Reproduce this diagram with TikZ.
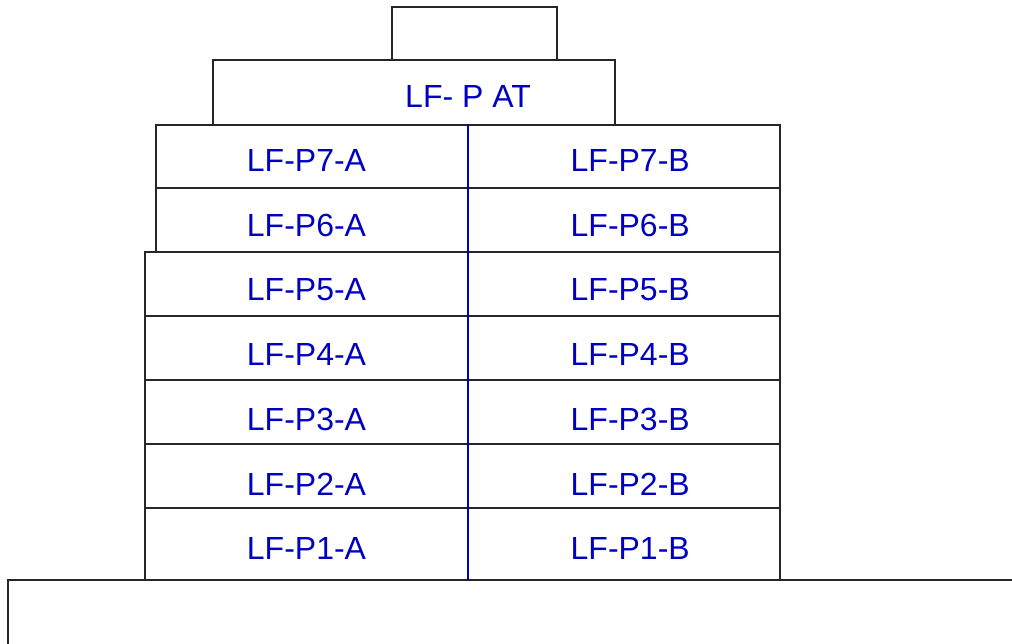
\documentclass[tikz,border=0pt]{standalone}
\usepackage{fontspec}
\setmainfont{Liberation Sans}
\usetikzlibrary{positioning}
\definecolor{lfblue}{RGB}{0,0,192}
\tikzset{frame/.style={draw=black!85,line width=0.6pt},
 divider/.style={draw=lfblue,line width=0.6pt},
 cell/.style={text=lfblue,font=\fontsize{18.2}{22}\selectfont,
  minimum width=64.6mm,minimum height=12.8mm,inner sep=0pt}}

\begin{document}
\begin{tikzpicture}[x=0.2mm,y=0.2mm]
\useasboundingbox (0,0) rectangle (1012,643);
\clip (0,0) rectangle (1012,643);

% outline of the stack
\draw[frame] (392,583) rectangle (557,636);
\draw[frame] (213,518) rectangle (615,583);
\draw[frame] (156,391) rectangle (780,518);
\draw[frame] (156,455) -- (780,455);
\draw[frame] (145,63) rectangle (780,391);
\draw[frame] (145,327) -- (780,327);
\draw[frame] (145,263) -- (780,263);
\draw[frame] (145,199) -- (780,199);
\draw[frame] (145,135) -- (780,135);
\draw[frame] (8,-20) rectangle (1040,63);

\coordinate (divtop) at (468,518);
\coordinate (divbot) at (468,63);
\draw[divider] (divtop) -- (divbot);

\node[cell,minimum width=0pt] (PAT) at (468,546.5) {LF- P AT};

\node[cell] (P7A) at (306.5,482.5) {LF-P7-A};
\node[cell,right=0pt of P7A] (P7B) {LF-P7-B};
\node[cell,below=0pt of P7A] (P6A) {LF-P6-A};
\node[cell,right=0pt of P6A] (P6B) {LF-P6-B};
\node[cell,below=0pt of P6A] (P5A) {LF-P5-A};
\node[cell,right=0pt of P5A] (P5B) {LF-P5-B};
\node[cell,below=0pt of P5A] (P4A) {LF-P4-A};
\node[cell,right=0pt of P4A] (P4B) {LF-P4-B};
\node[cell,below=0pt of P4A] (P3A) {LF-P3-A};
\node[cell,right=0pt of P3A] (P3B) {LF-P3-B};
\node[cell,below=0pt of P3A] (P2A) {LF-P2-A};
\node[cell,right=0pt of P2A] (P2B) {LF-P2-B};
\node[cell,below=0pt of P2A] (P1A) {LF-P1-A};
\node[cell,right=0pt of P1A] (P1B) {LF-P1-B};
\end{tikzpicture}
\end{document}
